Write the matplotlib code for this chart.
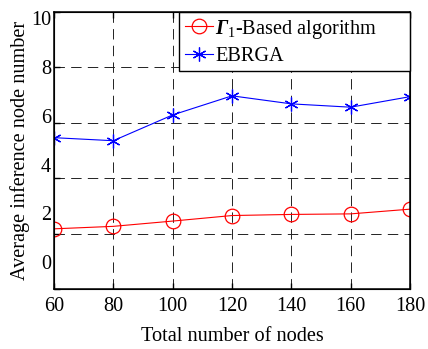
import matplotlib
matplotlib.use('Agg')
import matplotlib.pyplot as plt

plt.rcParams['font.family'] = 'Liberation Serif'
plt.rcParams['mathtext.fontset'] = 'custom'
plt.rcParams['mathtext.rm'] = 'Liberation Serif'
plt.rcParams['mathtext.it'] = 'Liberation Serif:italic'
plt.rcParams['mathtext.bf'] = 'Liberation Serif:bold'
plt.rcParams['mathtext.bfit'] = 'Liberation Serif:bold:italic'
plt.rcParams['lines.scale_dashes'] = False

# Data
nodes = [60, 80, 100, 120, 140, 160, 180]
gamma_based = [2.17, 2.26, 2.45, 2.65, 2.69, 2.71, 2.88]
ebrga = [5.46, 5.35, 6.28, 6.97, 6.68, 6.56, 6.94]
y_ticks = [0, 2, 4, 6, 8, 10]

fs = 14.6

fig = plt.figure(figsize=(4.28, 3.49), dpi=100)
ax = fig.add_axes([0.126, 0.172, 0.832, 0.794])

ax.plot(nodes, gamma_based, '-', color='r', lw=0.8, marker='o', ms=10.5,
        mfc='none', mew=0.9, label=r'$\mathbfit{\Gamma}_{1}$-Based algorithm')
ax.plot(nodes, ebrga, '-', color='b', lw=0.8, marker=(6, 2, 0), ms=10,
        mew=0.9, label='EBRGA')

ax.set_xlim(60, 180)
ax.set_ylim(0, 10)
ax.set_xticks(nodes)
ax.set_yticks(y_ticks)
ax.set_yticklabels([])
ax.grid(True, color='#222222', linestyle=(0, (7.5, 4.5)), lw=0.7)
ax.tick_params(direction='in', top=True, right=True, length=4, width=1,
               labelsize=fs, pad=6)
for s in ax.spines.values():
    s.set_linewidth(1.1)
ax.set_xlabel('Total number of nodes', fontsize=fs, labelpad=8)

# y labels sit on their own (shifted) scale, as in the original figure
ax2 = ax.twinx()
ax2.yaxis.tick_left()
ax2.set_ylim(-1.1, 10.26)
ax2.set_yticks(y_ticks)
ax2.tick_params(length=0, labelsize=fs, pad=2)
ax2.yaxis.set_label_position('left')
ax2.set_ylabel('Average inference node number', fontsize=fs, labelpad=1)

leg = ax.legend(loc='upper right', bbox_to_anchor=(0.351, 0, 0.649, 1),
                mode='expand', borderaxespad=0, fontsize=fs, fancybox=False,
                framealpha=1, edgecolor='k', handlelength=1.4,
                handletextpad=0.1, labelspacing=0.3, borderpad=0.28)
leg.get_frame().set_linewidth(1.0)
leg.set_zorder(5)

fig.savefig('out.png', dpi=100)
